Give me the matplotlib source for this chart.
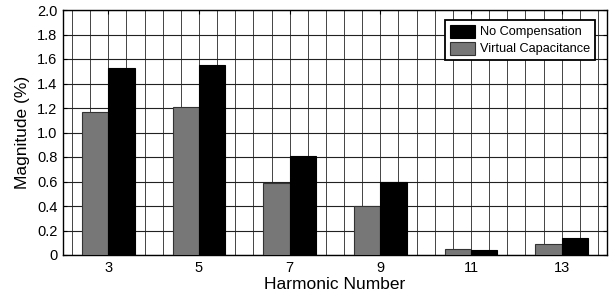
import matplotlib.pyplot as plt
import numpy as np
from matplotlib.ticker import MultipleLocator

plt.rcParams["font.family"] = ["Liberation Sans", "DejaVu Sans"]

HARMONICS = ["3", "5", "7", "9", "11", "13"]
VIRTUAL_CAP = [1.17, 1.21, 0.59, 0.40, 0.05, 0.09]
NO_COMP = [1.53, 1.55, 0.81, 0.60, 0.04, 0.14]
Y_TICKS = [0, 0.2, 0.4, 0.6, 0.8, 1.0, 1.2, 1.4, 1.6, 1.8, 2.0]
Y_TICK_LABELS = ["0", "0.2", "0.4", "0.6", "0.8", "1.0", "1.2", "1.4", "1.6", "1.8", "2.0"]


def main():
    fig = plt.figure(figsize=(6.15, 3.01), dpi=100)
    ax = fig.add_axes([63 / 615, 46 / 301, 544 / 615, 245 / 301])

    x = np.arange(1, len(HARMONICS) + 1)
    width = 0.29

    ax.bar(x - width / 2, VIRTUAL_CAP, width, color="#777777", edgecolor="#333333",
           linewidth=0.8, label="Virtual Capacitance", zorder=3)
    ax.bar(x + width / 2, NO_COMP, width, color="black", edgecolor="black",
           linewidth=0.8, label="No Compensation", zorder=3)

    ax.set_xlim(0.5, len(HARMONICS) + 0.5)
    ax.set_ylim(0, 2.0)
    ax.set_xticks(x)
    ax.set_xticklabels(HARMONICS)
    ax.xaxis.set_minor_locator(MultipleLocator(0.2))
    ax.set_yticks(Y_TICKS)
    ax.set_yticklabels(Y_TICK_LABELS)

    ax.grid(True, which="major", axis="y", color="#222222", linewidth=0.8, zorder=0)
    ax.grid(True, which="both", axis="x", color="#444444", linewidth=0.7, zorder=0)

    ax.tick_params(which="both", direction="in", top=True, right=True, labelsize=10.5,
                   length=3, width=0.8, pad=4)
    ax.tick_params(which="minor", length=0)
    for spine in ax.spines.values():
        spine.set_linewidth(1.0)

    ax.set_xlabel("Harmonic Number", fontsize=12.5, labelpad=2)
    ax.set_ylabel("Magnitude (%)", fontsize=12.5, labelpad=5)

    handles, labels = ax.get_legend_handles_labels()
    legend = ax.legend(handles[::-1], labels[::-1], loc="upper right", fontsize=9.2,
                       fancybox=False, framealpha=1, edgecolor="black",
                       handlelength=2.0, handleheight=1.2, borderpad=0.35,
                       labelspacing=0.25, handletextpad=0.4,
                       bbox_to_anchor=(0.99, 0.985))
    legend.get_frame().set_linewidth(1.3)
    legend.set_zorder(5)

    fig.savefig("out.png", dpi=100)
    plt.close(fig)


if __name__ == "__main__":
    main()
